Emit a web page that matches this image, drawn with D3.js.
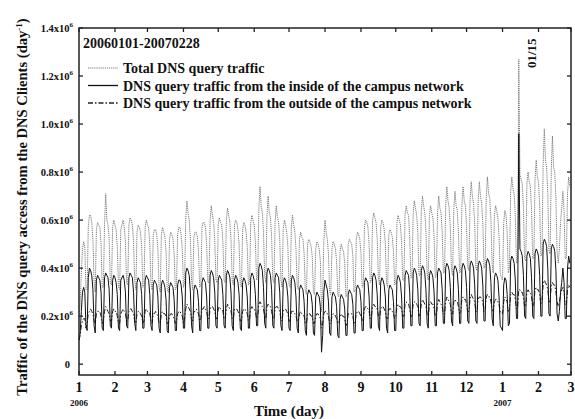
<!DOCTYPE html>
<html lang="en">
<head>
<meta charset="UTF-8">
<script src="https://d3js.org/d3.v7.min.js"></script>
<style>
  body { margin: 0; background: #fff; }
  svg text { font-family: "Liberation Serif", "Times New Roman", serif; font-weight: bold; fill: #111; }
</style>
</head>
<body>
<div id="chart"></div>
<script>
// daily values, unit = 10^6 queries, first value is 2006-01-01 (a Sunday), one row = one week Sun..Sat
const inside = [
  0.10,0.13,0.22,0.30,0.32,0.30,0.16,
  0.14,0.36,0.40,0.39,0.37,0.31,0.16,
  0.13,0.35,0.37,0.36,0.35,0.30,0.15,
  0.14,0.36,0.38,0.37,0.36,0.31,0.16,
  0.15,0.35,0.37,0.36,0.34,0.29,0.15,
  0.14,0.35,0.36,0.37,0.35,0.30,0.16,
  0.15,0.36,0.38,0.37,0.36,0.30,0.17,
  0.14,0.34,0.36,0.35,0.34,0.29,0.15,
  0.15,0.35,0.37,0.36,0.35,0.29,0.16,
  0.14,0.33,0.35,0.34,0.33,0.28,0.15,
  0.13,0.33,0.35,0.34,0.32,0.27,0.14,
  0.13,0.32,0.34,0.33,0.32,0.27,0.14,
  0.14,0.33,0.35,0.35,0.33,0.28,0.15,
  0.15,0.38,0.40,0.39,0.37,0.30,0.16,
  0.13,0.31,0.33,0.32,0.31,0.26,0.14,
  0.14,0.34,0.36,0.35,0.34,0.28,0.15,
  0.15,0.37,0.39,0.38,0.36,0.30,0.16,
  0.15,0.35,0.37,0.36,0.35,0.29,0.16,
  0.15,0.37,0.39,0.38,0.36,0.30,0.16,
  0.14,0.35,0.37,0.36,0.34,0.29,0.15,
  0.14,0.34,0.36,0.35,0.33,0.28,0.15,
  0.15,0.36,0.38,0.37,0.35,0.29,0.16,
  0.16,0.40,0.42,0.41,0.39,0.32,0.17,
  0.15,0.38,0.40,0.39,0.37,0.31,0.16,
  0.15,0.36,0.38,0.37,0.36,0.30,0.16,
  0.14,0.34,0.36,0.35,0.33,0.28,0.15,
  0.14,0.35,0.37,0.36,0.34,0.28,0.15,
  0.13,0.31,0.33,0.32,0.31,0.26,0.14,
  0.12,0.29,0.31,0.30,0.29,0.25,0.13,
  0.12,0.28,0.30,0.29,0.28,0.24,0.05,
  0.12,0.30,0.35,0.33,0.31,0.26,0.13,
  0.12,0.28,0.30,0.29,0.28,0.24,0.12,
  0.11,0.27,0.29,0.28,0.27,0.23,0.12,
  0.12,0.29,0.31,0.30,0.29,0.25,0.13,
  0.13,0.31,0.33,0.32,0.31,0.26,0.14,
  0.14,0.34,0.36,0.35,0.34,0.28,0.15,
  0.15,0.36,0.38,0.37,0.35,0.29,0.16,
  0.14,0.34,0.36,0.35,0.33,0.28,0.15,
  0.13,0.31,0.33,0.32,0.31,0.26,0.14,
  0.14,0.35,0.37,0.36,0.34,0.28,0.15,
  0.15,0.37,0.39,0.38,0.37,0.30,0.16,
  0.16,0.38,0.40,0.39,0.37,0.31,0.17,
  0.16,0.39,0.41,0.40,0.38,0.31,0.17,
  0.15,0.37,0.39,0.38,0.36,0.30,0.16,
  0.16,0.38,0.40,0.39,0.38,0.31,0.17,
  0.17,0.40,0.42,0.41,0.39,0.32,0.18,
  0.16,0.39,0.41,0.40,0.38,0.31,0.17,
  0.17,0.40,0.42,0.41,0.39,0.32,0.18,
  0.17,0.41,0.43,0.42,0.40,0.33,0.18,
  0.17,0.41,0.43,0.42,0.40,0.33,0.18,
  0.18,0.42,0.44,0.43,0.41,0.34,0.19,
  0.16,0.36,0.38,0.37,0.35,0.28,0.16,
  0.15,0.14,0.33,0.36,0.35,0.29,0.16,
  0.17,0.43,0.45,0.44,0.42,0.35,0.19,
  0.19,0.96,0.48,0.47,0.45,0.37,0.20,
  0.19,0.45,0.47,0.46,0.44,0.36,0.20,
  0.19,0.46,0.48,0.47,0.45,0.37,0.20,
  0.20,0.50,0.52,0.51,0.49,0.40,0.21,
  0.20,0.48,0.50,0.49,0.47,0.39,0.21,
  0.18,0.22,0.30,0.34,0.40,0.34,0.19,
  0.19,0.40,0.45,0.42
];

const outside = [
  0.10,0.12,0.16,0.18,0.19,0.19,0.15,
  0.17,0.21,0.22,0.23,0.22,0.21,0.18,
  0.17,0.21,0.22,0.22,0.22,0.20,0.17,
  0.18,0.22,0.24,0.23,0.22,0.21,0.18,
  0.18,0.22,0.23,0.22,0.22,0.20,0.17,
  0.17,0.21,0.22,0.23,0.22,0.21,0.18,
  0.18,0.22,0.23,0.23,0.22,0.21,0.18,
  0.17,0.21,0.22,0.22,0.21,0.20,0.17,
  0.18,0.22,0.23,0.22,0.22,0.21,0.18,
  0.17,0.21,0.21,0.22,0.21,0.20,0.17,
  0.17,0.21,0.22,0.21,0.21,0.20,0.17,
  0.17,0.20,0.21,0.21,0.20,0.19,0.17,
  0.18,0.21,0.22,0.22,0.21,0.20,0.17,
  0.19,0.23,0.25,0.24,0.23,0.22,0.19,
  0.18,0.22,0.22,0.23,0.22,0.21,0.18,
  0.19,0.23,0.23,0.24,0.23,0.22,0.19,
  0.19,0.23,0.24,0.24,0.23,0.22,0.19,
  0.19,0.23,0.24,0.23,0.23,0.22,0.19,
  0.19,0.23,0.25,0.24,0.23,0.22,0.19,
  0.19,0.23,0.23,0.23,0.22,0.21,0.18,
  0.18,0.22,0.23,0.23,0.22,0.21,0.18,
  0.19,0.23,0.24,0.23,0.23,0.22,0.19,
  0.20,0.25,0.26,0.25,0.24,0.23,0.20,
  0.19,0.24,0.25,0.24,0.24,0.22,0.19,
  0.19,0.23,0.24,0.24,0.23,0.22,0.19,
  0.18,0.22,0.23,0.23,0.22,0.21,0.18,
  0.18,0.22,0.22,0.22,0.21,0.20,0.18,
  0.18,0.21,0.22,0.21,0.21,0.20,0.17,
  0.17,0.21,0.21,0.21,0.20,0.20,0.17,
  0.17,0.20,0.21,0.21,0.20,0.19,0.15,
  0.17,0.21,0.22,0.22,0.21,0.20,0.17,
  0.17,0.20,0.21,0.21,0.20,0.19,0.17,
  0.17,0.20,0.21,0.20,0.20,0.19,0.16,
  0.17,0.21,0.21,0.21,0.21,0.20,0.17,
  0.18,0.21,0.22,0.22,0.21,0.20,0.18,
  0.19,0.23,0.24,0.24,0.23,0.22,0.19,
  0.20,0.24,0.25,0.24,0.24,0.23,0.20,
  0.19,0.23,0.24,0.24,0.23,0.22,0.19,
  0.19,0.23,0.23,0.23,0.22,0.21,0.19,
  0.20,0.24,0.25,0.24,0.24,0.23,0.20,
  0.20,0.25,0.26,0.25,0.25,0.23,0.20,
  0.20,0.25,0.26,0.26,0.25,0.24,0.20,
  0.21,0.25,0.27,0.26,0.25,0.24,0.21,
  0.20,0.25,0.26,0.25,0.25,0.23,0.20,
  0.21,0.25,0.27,0.26,0.25,0.24,0.21,
  0.21,0.26,0.28,0.27,0.26,0.25,0.21,
  0.21,0.26,0.27,0.26,0.26,0.24,0.21,
  0.22,0.27,0.28,0.27,0.27,0.25,0.22,
  0.22,0.27,0.29,0.28,0.27,0.26,0.22,
  0.22,0.27,0.28,0.28,0.27,0.26,0.22,
  0.23,0.28,0.29,0.28,0.28,0.26,0.23,
  0.22,0.26,0.27,0.27,0.26,0.25,0.22,
  0.21,0.21,0.26,0.28,0.27,0.26,0.22,
  0.23,0.29,0.30,0.29,0.29,0.27,0.23,
  0.24,0.31,0.31,0.30,0.30,0.28,0.24,
  0.24,0.30,0.31,0.30,0.30,0.28,0.24,
  0.25,0.31,0.32,0.31,0.31,0.29,0.25,
  0.26,0.33,0.35,0.34,0.33,0.31,0.26,
  0.26,0.33,0.34,0.33,0.33,0.30,0.26,
  0.24,0.26,0.29,0.31,0.32,0.30,0.25,
  0.25,0.31,0.33,0.32
];

const total = [
  0.20,0.25,0.38,0.48,0.51,0.49,0.31,
  0.31,0.57,0.62,0.62,0.59,0.52,0.34,
  0.30,0.56,0.59,0.58,0.57,0.50,0.32,
  0.32,0.58,0.71,0.60,0.58,0.52,0.34,
  0.33,0.57,0.60,0.58,0.56,0.49,0.32,
  0.31,0.56,0.58,0.60,0.57,0.51,0.34,
  0.33,0.58,0.61,0.60,0.58,0.51,0.35,
  0.31,0.55,0.58,0.57,0.55,0.49,0.32,
  0.33,0.57,0.60,0.58,0.57,0.50,0.34,
  0.31,0.54,0.56,0.56,0.54,0.48,0.32,
  0.30,0.54,0.57,0.55,0.53,0.47,0.31,
  0.30,0.52,0.55,0.54,0.52,0.46,0.31,
  0.32,0.54,0.57,0.57,0.54,0.48,0.32,
  0.34,0.61,0.68,0.63,0.60,0.52,0.35,
  0.31,0.53,0.55,0.55,0.53,0.47,0.32,
  0.33,0.57,0.59,0.59,0.57,0.50,0.34,
  0.34,0.60,0.66,0.62,0.59,0.52,0.35,
  0.34,0.58,0.61,0.59,0.58,0.51,0.35,
  0.34,0.60,0.65,0.62,0.59,0.52,0.35,
  0.33,0.58,0.60,0.59,0.56,0.50,0.33,
  0.32,0.56,0.59,0.58,0.55,0.49,0.33,
  0.34,0.59,0.62,0.60,0.58,0.51,0.35,
  0.36,0.65,0.74,0.66,0.63,0.55,0.37,
  0.34,0.62,0.70,0.63,0.61,0.53,0.35,
  0.34,0.59,0.66,0.61,0.59,0.52,0.35,
  0.32,0.56,0.60,0.58,0.55,0.49,0.33,
  0.32,0.57,0.62,0.58,0.55,0.48,0.33,
  0.31,0.52,0.55,0.53,0.52,0.46,0.31,
  0.29,0.50,0.52,0.51,0.49,0.45,0.30,
  0.29,0.48,0.51,0.50,0.48,0.43,0.22,
  0.29,0.51,0.60,0.55,0.52,0.46,0.30,
  0.29,0.48,0.51,0.50,0.48,0.43,0.29,
  0.28,0.47,0.50,0.48,0.47,0.42,0.28,
  0.29,0.50,0.52,0.51,0.50,0.45,0.30,
  0.31,0.52,0.55,0.54,0.52,0.46,0.32,
  0.33,0.57,0.60,0.59,0.57,0.50,0.34,
  0.35,0.60,0.63,0.61,0.59,0.52,0.36,
  0.33,0.57,0.60,0.59,0.56,0.50,0.34,
  0.32,0.54,0.56,0.55,0.53,0.47,0.33,
  0.34,0.59,0.62,0.60,0.58,0.51,0.35,
  0.35,0.62,0.66,0.63,0.62,0.53,0.36,
  0.36,0.63,0.68,0.65,0.62,0.55,0.37,
  0.37,0.64,0.70,0.66,0.63,0.55,0.38,
  0.35,0.62,0.66,0.63,0.61,0.53,0.36,
  0.37,0.63,0.70,0.65,0.63,0.55,0.38,
  0.38,0.66,0.74,0.68,0.65,0.57,0.39,
  0.37,0.65,0.72,0.66,0.64,0.55,0.38,
  0.39,0.67,0.74,0.68,0.66,0.57,0.40,
  0.39,0.68,0.76,0.70,0.67,0.59,0.40,
  0.39,0.68,0.76,0.70,0.67,0.59,0.40,
  0.41,0.70,0.78,0.71,0.69,0.60,0.42,
  0.38,0.62,0.66,0.64,0.61,0.53,0.38,
  0.36,0.35,0.59,0.64,0.62,0.55,0.38,
  0.40,0.72,0.78,0.73,0.71,0.62,0.42,
  0.43,1.27,0.79,0.77,0.75,0.65,0.44,
  0.43,0.75,0.80,0.76,0.74,0.64,0.44,
  0.44,0.77,0.85,0.78,0.76,0.66,0.45,
  0.46,0.83,0.98,0.85,0.82,0.71,0.47,
  0.46,0.81,0.95,0.82,0.80,0.69,0.47,
  0.42,0.48,0.59,0.65,0.72,0.64,0.44,
  0.44,0.71,0.78,0.74
];

const yTicks = [0, 0.2, 0.4, 0.6, 0.8, 1.0, 1.2, 1.4];
const legendNames = [
  "Total DNS query traffic",
  "DNS query traffic from the inside of the campus network",
  "DNS query traffic from the outside of the campus network"
];

const W = 575, H = 419;
const plot = { left: 79, right: 571, top: 28, bottom: 375 };

const svg = d3.select("#chart").append("svg")
  .attr("width", W)
  .attr("height", H);

const x = d3.scaleUtc()
  .domain([new Date(Date.UTC(2006, 0, 1)), new Date(Date.UTC(2007, 2, 1))])
  .range([plot.left, plot.right]);

const y = d3.scaleLinear()
  .domain([-0.045, 1.4])
  .range([plot.bottom, plot.top]);

const day = i => new Date(Date.UTC(2006, 0, 1 + i));

// series lines
const line = d3.line()
  .x((d, i) => x(day(i)))
  .y(d => y(d));

svg.append("path")
  .datum(total)
  .attr("d", line)
  .attr("fill", "none")
  .attr("stroke", "#7a7a7a")
  .attr("stroke-width", 1)
  .attr("stroke-dasharray", "1.2,0.9");

svg.append("path")
  .datum(outside)
  .attr("d", line)
  .attr("fill", "none")
  .attr("stroke", "#222")
  .attr("stroke-width", 1)
  .attr("stroke-dasharray", "5,2,1.5,2");

svg.append("path")
  .datum(inside)
  .attr("d", line)
  .attr("fill", "none")
  .attr("stroke", "#111")
  .attr("stroke-width", 1);

// frame
svg.append("rect")
  .attr("x", plot.left)
  .attr("y", plot.top)
  .attr("width", plot.right - plot.left)
  .attr("height", plot.bottom - plot.top)
  .attr("fill", "none")
  .attr("stroke", "#222")
  .attr("stroke-width", 1.5);

const months = x.ticks(d3.utcMonth.every(1));

// ticks pointing inwards on all four sides
const tk = svg.append("g").attr("stroke", "#222").attr("stroke-width", 1.3);
months.forEach(m => {
  tk.append("line").attr("x1", x(m)).attr("x2", x(m)).attr("y1", plot.bottom).attr("y2", plot.bottom - 4);
  tk.append("line").attr("x1", x(m)).attr("x2", x(m)).attr("y1", plot.top).attr("y2", plot.top + 4);
});
yTicks.forEach(v => {
  tk.append("line").attr("x1", plot.left).attr("x2", plot.left + 4).attr("y1", y(v)).attr("y2", y(v));
  tk.append("line").attr("x1", plot.right).attr("x2", plot.right - 4).attr("y1", y(v)).attr("y2", y(v));
});

// month labels
svg.append("g").selectAll("text")
  .data(months)
  .enter().append("text")
  .attr("x", d => x(d))
  .attr("y", 392)
  .attr("text-anchor", "middle")
  .style("font-size", "14px")
  .text(d => d.getUTCMonth() + 1);

svg.append("g").selectAll("text")
  .data(months.filter(d => d.getUTCMonth() === 0))
  .enter().append("text")
  .attr("x", d => x(d))
  .attr("y", 406)
  .attr("text-anchor", "middle")
  .style("font-size", "9px")
  .text(d => d.getUTCFullYear());

// y labels
const yl = svg.append("g").selectAll("text")
  .data(yTicks)
  .enter().append("text")
  .attr("x", d => d === 0 ? 70 : 73)
  .attr("y", d => y(d) + 4)
  .attr("text-anchor", "end")
  .style("font-size", "10.5px");
yl.each(function (d) {
  const t = d3.select(this);
  if (d === 0) { t.text("0"); return; }
  t.append("tspan").text(d.toFixed(1) + "x10");
  t.append("tspan").attr("dy", -5).style("font-size", "7px").text("6");
});

// axis titles
const yt = svg.append("text")
  .attr("transform", "translate(27,207) rotate(-90)")
  .attr("text-anchor", "middle")
  .style("font-size", "14.6px");
yt.append("tspan").text("Traffic of the DNS query access from the DNS Clients (day");
yt.append("tspan").attr("dy", -5).style("font-size", "9px").text("-1");
yt.append("tspan").attr("dy", 5).text(")");

svg.append("text")
  .attr("x", 289)
  .attr("y", 416)
  .attr("text-anchor", "middle")
  .style("font-size", "15px")
  .text("Time (day)");

// annotation for the peak
svg.append("text")
  .attr("transform", "translate(536,68) rotate(-90)")
  .style("font-size", "13px")
  .text("01/15");

// legend
svg.append("text")
  .attr("x", 83)
  .attr("y", 48)
  .style("font-size", "14px")
  .text("20060101-20070228");

const dashes = ["1.2,0.9", null, "5,2,1.5,2"];
const colors = ["#7a7a7a", "#111", "#222"];
const lg = svg.append("g").selectAll("g")
  .data(legendNames)
  .enter().append("g")
  .attr("transform", (d, i) => "translate(0," + (68 + i * 17.5) + ")");
lg.append("line")
  .attr("x1", 88).attr("x2", 118)
  .attr("y1", 0).attr("y2", 0)
  .attr("stroke", (d, i) => colors[i])
  .attr("stroke-width", (d, i) => i === 0 ? 1 : 1.3)
  .attr("stroke-dasharray", (d, i) => dashes[i]);
lg.append("text")
  .attr("x", 123)
  .attr("y", 5)
  .style("font-size", "14px")
  .text(d => d);
</script>
</body>
</html>
